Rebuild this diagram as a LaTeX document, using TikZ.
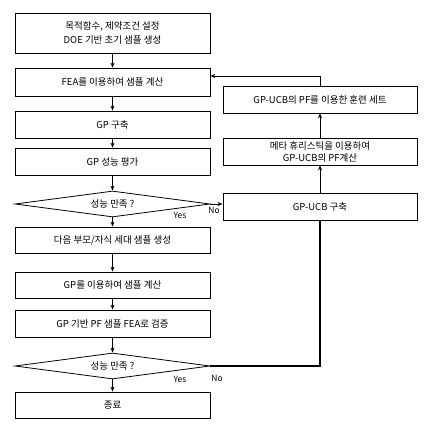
\documentclass[tikz,border=0pt]{standalone}
\usepackage{fontspec}
\setmainfont{Noto Sans CJK KR}
\usetikzlibrary{arrows.meta,shapes.geometric}
\begin{document}
\begin{tikzpicture}[x=1pt,y=-1pt,
  every node/.style={font=\fontsize{9.5}{12}\selectfont},
  boxl/.style={draw,line width=0.8pt,minimum width=195pt,inner sep=0pt,align=center},
  dia/.style={draw,line width=0.8pt,diamond,aspect=7.5,minimum width=195pt,minimum height=26pt,inner sep=0pt},
  flow/.style={line width=1.3pt,-{Stealth[length=5pt,width=4pt]}},
  thinflow/.style={line width=0.8pt,-{Stealth[length=5pt,width=4pt]}},
  lab/.style={font=\fontsize{8.5}{10}\selectfont,inner sep=1pt}]
\useasboundingbox (0,0) rectangle (430,435);
\node[boxl,minimum height=40pt] (b1) at (112.5,33) {목적함수, 제약조건 설정\\[2pt]DOE 기반 초기 샘플 생성};
\node[boxl,minimum height=28pt] (b2) at (112.5,82) {FEA를 이용하여 샘플 계산};
\node[boxl,minimum height=27pt] (b3) at (112.5,124.5) {GP 구축};
\node[boxl,minimum height=27pt] (b4) at (112.5,161.5) {GP 성능 평가};
\node[dia] (d1) at (112.5,204) {성능 만족 ?};
\node[boxl,minimum height=26pt] (b5) at (112.5,240) {다음 부모/자식 세대 샘플 생성};
\node[boxl,minimum height=26pt] (b6) at (112.5,285) {GP를 이용하여 샘플 계산};
\node[boxl,minimum height=27pt] (b7) at (112.5,323.5) {GP 기반 PF 샘플 FEA로 검증};
\node[dia] (d2) at (112.5,366) {성능 만족 ?};
\node[boxl,minimum height=26pt] (b8) at (112.5,405) {종료};
\node[boxl,minimum width=194pt,minimum height=27pt] (r1) at (320,99.5) {GP-UCB의 PF를 이용한 훈련 세트};
\node[boxl,minimum width=194pt,minimum height=27pt] (r2) at (320,151.5) {메타 휴리스틱을 이용하여\\GP-UCB의 PF계산};
\node[boxl,minimum width=194pt,minimum height=27pt] (r3) at (320,207) {GP-UCB 구축};
\coordinate (c1) at (320,76);
\coordinate (c2) at (320,366);
\draw[flow] (b1) -- (b2);
\draw[thinflow] (b2) -- (b3);
\draw[thinflow] (b3) -- (b4);
\draw[thinflow] (b4) -- (d1);
\draw[thinflow] (d1) -- (b5);
\draw[flow] (b5) -- (b6);
\draw[thinflow] (b6) -- (b7);
\draw[flow] (b7) -- (d2);
\draw[thinflow] (d2) -- (b8);
\draw[thinflow] (d1.east) -- (r3.west |- d1.east);
\draw[line width=1.3pt] (d2.east) -- (c2) -- (r3.south);
\draw[thinflow] (r3) -- (r2);
\draw[thinflow] (r2) -- (r1);
\draw[thinflow] (r1.north) -- (c1) -- (b2.east |- c1);
\node[lab] (y1) at (180,215) {Yes};
\node[lab] (n1) at (214,210) {No};
\node[lab] (y2) at (180,379) {Yes};
\node[lab] (n2) at (217,378) {No};
\end{tikzpicture}
\end{document}
